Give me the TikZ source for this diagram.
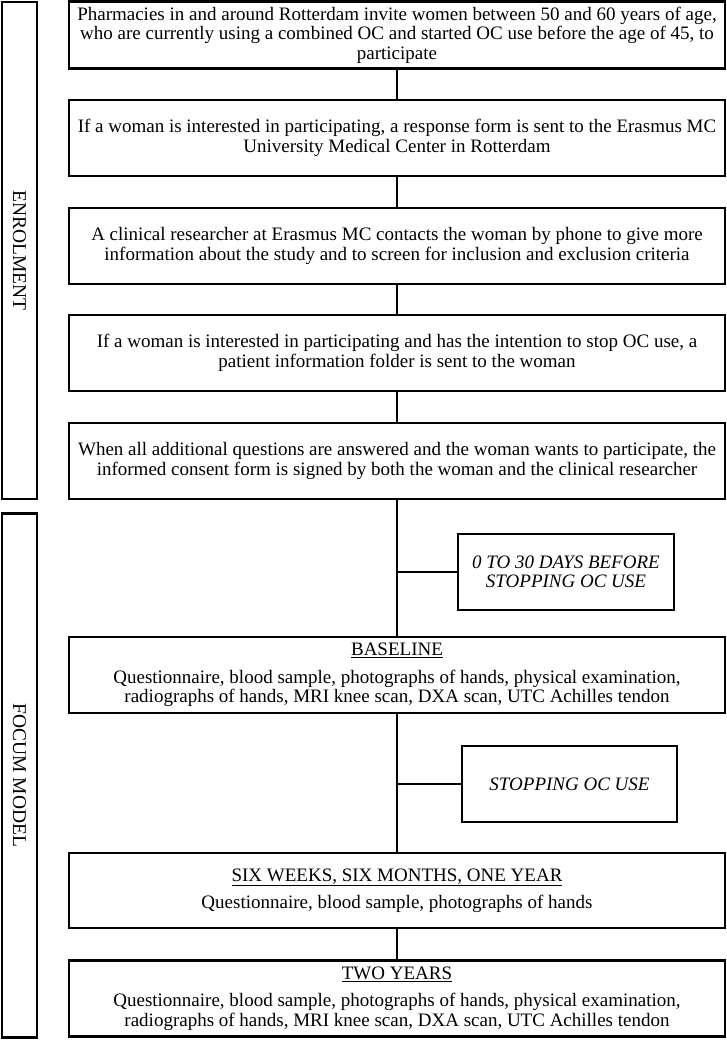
\documentclass[tikz,border=0pt]{standalone}
\usepackage{fontspec}
\setmainfont{Liberation Serif}
\begin{document}
\begin{tikzpicture}[x=1pt,y=-1pt,
  txt/.style={font=\fontsize{19}{19.5}\selectfont},
  box/.style={draw, line width=2.2pt, align=center, inner sep=0pt, txt},
  mainbox/.style={box, minimum width=656pt},
  sidebox/.style={box, minimum width=216pt, minimum height=76pt, font=\fontsize{19}{19.5}\selectfont\itshape},
  lane/.style={draw, line width=2.2pt, minimum width=35pt, inner sep=0pt},
  conn/.style={line width=2.2pt}]
\useasboundingbox (0,0) rectangle (726,1040);
\node[lane, minimum height=497pt] (enrol) at (19.5,250.5) {};
\node[rotate=-90, font=\fontsize{19.5}{20}\selectfont] (enroltxt) at (enrol.center) {ENROLMENT};
\node[lane, minimum height=524pt] (focum) at (19.5,775.5) {};
\node[rotate=-90, font=\fontsize{19.5}{20}\selectfont] (focumtxt) at (focum.center) {FOCUM MODEL};

\node[mainbox, minimum height=67pt] (b1) at (397,35) {Pharmacies in and around Rotterdam invite women between 50 and 60 years of age,\\ who are currently using a combined OC and started OC use before the age of 45, to\\ participate};
\node[mainbox, minimum height=76pt] (b2) at (397,138) {If a woman is interested in participating, a response form is sent to the Erasmus MC\\ University Medical Center in Rotterdam};
\node[mainbox, minimum height=76pt] (b3) at (397,246) {A clinical researcher at Erasmus MC contacts the woman by phone to give more\\ information about the study and to screen for inclusion and exclusion criteria};
\node[mainbox, minimum height=76pt] (b4) at (397,353) {If a woman is interested in participating and has the intention to stop OC use, a\\ patient information folder is sent to the woman};
\node[mainbox, minimum height=76pt] (b5) at (397,461) {When all additional questions are answered and the woman wants to participate, the\\ informed consent form is signed by both the woman and the clinical researcher};
\node[sidebox] (s1) at (566,572) {0 TO 30 DAYS BEFORE\\ STOPPING OC USE};
\node[mainbox, minimum height=76pt] (b6) at (397,675) {\underline{BASELINE}\\[8pt] Questionnaire, blood sample, photographs of hands, physical examination,\\ radiographs of hands, MRI knee scan, DXA scan, UTC Achilles tendon};
\node[sidebox, minimum width=215pt] (s2) at (569.5,784) {STOPPING OC USE};
\node[mainbox, minimum height=75pt] (b7) at (397,890.5) {\underline{SIX WEEKS, SIX MONTHS, ONE YEAR}\\[8pt] Questionnaire, blood sample, photographs of hands};
\node[mainbox, minimum height=76pt] (b8) at (397,998.5) {\underline{TWO YEARS}\\[8pt] Questionnaire, blood sample, photographs of hands, physical examination,\\ radiographs of hands, MRI knee scan, DXA scan, UTC Achilles tendon};

\draw[conn] (b1) -- (b2);
\draw[conn] (b2) -- (b3);
\draw[conn] (b3) -- (b4);
\draw[conn] (b4) -- (b5);
\draw[conn] (b5) -- (b6);
\coordinate (j1) at (b5.south |- s1.west);
\draw[conn] (j1) -- (s1.west);
\draw[conn] (b6) -- (b7);
\coordinate (j2) at (b6.south |- s2.west);
\draw[conn] (j2) -- (s2.west);
\draw[conn] (b7) -- (b8);
\end{tikzpicture}
\end{document}
